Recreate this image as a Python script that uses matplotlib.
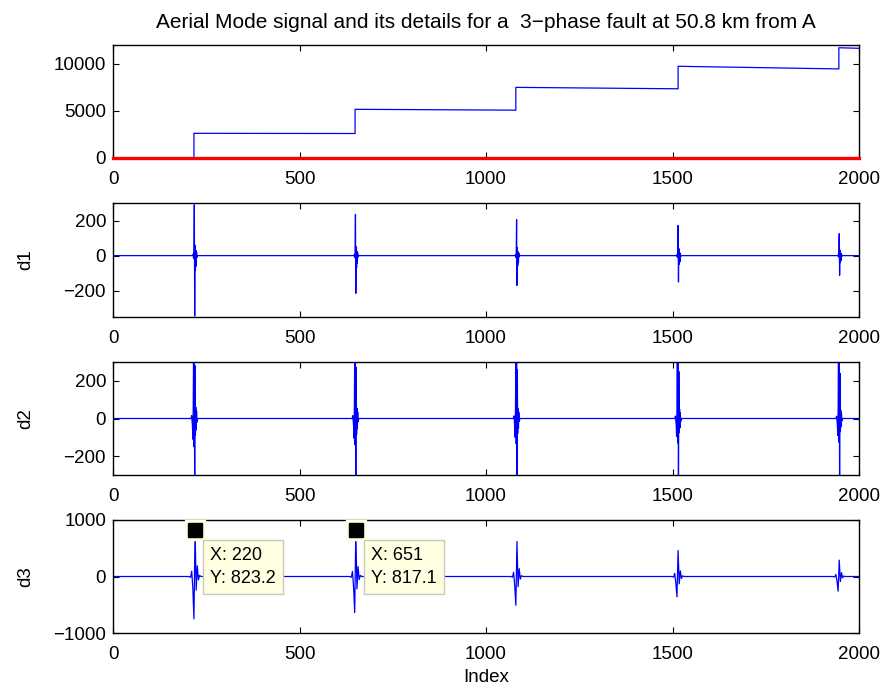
import numpy as np
import matplotlib
matplotlib.use('Agg')
import matplotlib.pyplot as plt

plt.rcParams['font.family'] = ['Liberation Sans', 'DejaVu Sans']
plt.rcParams['font.size'] = 13

# 数据
n_samples = 2000
title = 'Aerial Mode signal and its details for a  3\u2212phase fault at 50.8 km from A'

# 顶部: 阶梯信号 (拐点)
step_x = [0, 217, 217, 649, 649, 1080, 1080, 1515, 1515, 1946, 1946, 2000]
step_y = [0, 0, 2620, 2600, 5170, 5080, 7500, 7350, 9740, 9460, 11710, 11650]
zero_x = [0, 2000]
zero_y = [0, 0]

# 故障事件位置
events = [218, 650, 1082, 1515, 1947]

# d1 波形 (相对偏移, 每个事件的值)
d1_off = [-4, -3, -2, -1, 0, 1, 2, 3, 4, 5, 6, 7, 9]
d1_vals = [
    [0, 8, -15, 25, 290, -345, 60, -85, 30, -60, 20, -10, 0],
    [0, 6, -12, 20, 235, -215, 50, -70, 25, -45, 15, -8, 0],
    [0, 5, -10, 18, 205, -170, 45, -60, 22, -40, 14, -6, 0],
    [0, 5, -9, 15, 172, -150, 40, -50, 20, -35, 12, -5, 0],
    [0, 4, -8, 12, 125, -112, 30, -40, 15, -28, 10, -4, 0],
]

# d2 波形
d2_off = [-9, -7, -5, -4, -3, -2, -1, 0, 1, 2, 3, 4, 5, 6, 7, 9]
d2_vals = [
    [0, 15, -40, -110, 40, 350, -150, 400, -400, 280, -90, 60, -60, 40, -20, 0],
    [0, 15, -40, -105, 40, 340, -140, 390, -390, 270, -85, 55, -55, 35, -18, 0],
    [0, 14, -38, -100, 38, 330, -135, 380, -380, 260, -80, 52, -52, 33, -16, 0],
    [0, 13, -35, -95, 35, 320, -130, 370, -370, 250, -75, 50, -50, 30, -15, 0],
    [0, 12, -32, -90, 32, 310, -125, 360, -360, 240, -70, 45, -45, 28, -14, 0],
]

# d3 波形
d3_off = [-16, -12, -9, -6, -3, 0, 3, 6, 9, 12, 16]
d3_vals = [
    [0, -15, 95, -205, -750, 823.2, -240, 190, -60, 20, 0],
    [0, -15, 90, -190, -640, 817.1, -220, 175, -55, 18, 0],
    [0, -12, 75, -160, -510, 620, -180, 140, -45, 15, 0],
    [0, -10, 55, -120, -360, 460, -130, 100, -35, 12, 0],
    [0, -8, 35, -80, -260, 290, -90, 70, -25, 8, 0],
]
d3_peak = [220, 651, 1083, 1515, 1947]

# 数据提示框
tips_x = [220, 651]
tips_y = [823.2, 817.1]

ylims = [(0, 12000), (-350, 300), (-300, 300), (-1000, 1000)]
yticks = [[0, 5000, 10000], [-200, 0, 200], [-200, 0, 200], [-1000, 0, 1000]]
ylabels = ['', 'd1', 'd2', 'd3']


def build_line(centers, offsets, vals):
    xs = [0]
    ys = [0]
    for c, v in zip(centers, vals):
        for o, y in zip(offsets, v):
            xs.append(c + o)
            ys.append(y)
    xs.append(n_samples)
    ys.append(0)
    return xs, ys


fig = plt.figure(figsize=(8.88, 6.89), dpi=100)
tops = [45, 203, 362, 520]
bots = [158, 317, 475, 633]
axes = []
for t, b in zip(tops, bots):
    ax = fig.add_axes([113 / 888, 1 - b / 689, (859 - 113) / 888, (b - t) / 689])
    axes.append(ax)

# 顶部信号
axes[0].plot(step_x, step_y, color='blue', lw=0.9)
axes[0].plot(zero_x, zero_y, color='red', lw=2.4, clip_on=False, zorder=5)
axes[0].set_title(title, fontsize=15, pad=12)

x1, y1 = build_line(events, d1_off, d1_vals)
axes[1].plot(x1, y1, color='blue', lw=0.9)
x2, y2 = build_line(events, d2_off, d2_vals)
axes[2].plot(x2, y2, color='blue', lw=0.9)
x3, y3 = build_line(d3_peak, d3_off, d3_vals)
axes[3].plot(x3, y3, color='blue', lw=0.9)

for i, ax in enumerate(axes):
    ax.set_xlim(0, 2000)
    ax.set_ylim(*ylims[i])
    ax.set_xticks([0, 500, 1000, 1500, 2000])
    ax.set_yticks(yticks[i])
    ax.tick_params(direction='in', length=4, width=0.8, top=True, right=True, labelsize=13.5)
    ax.tick_params(axis='x', pad=9.5)
    ax.tick_params(axis='y', pad=5)
    for s in ax.spines.values():
        s.set_linewidth(1.0)
    if ylabels[i]:
        ax.set_ylabel(ylabels[i], fontsize=13.5)
        ax.yaxis.set_label_coords(-0.105, 0.5)

axes[3].set_xlabel('Index', fontsize=13.5, labelpad=4)

# 数据提示
for tx, ty in zip(tips_x, tips_y):
    axes[3].plot(tx, ty, marker='s', ms=14, color='#ffffe1', mec='#ffffe1', zorder=4, clip_on=False)
    axes[3].plot(tx, ty, marker='s', ms=10, color='black', zorder=5, clip_on=False)
    axes[3].annotate('X: %d\nY: %.1f' % (tx, ty), xy=(tx, ty), xytext=(15, -17),
                     textcoords='offset pixels', ha='left', va='top', fontsize=13,
                     linespacing=1.45,
                     bbox=dict(boxstyle='square,pad=0.4', fc='#ffffe1', ec='#c8c8b8', lw=1),
                     zorder=6)

plt.savefig('out.png', dpi=100)
